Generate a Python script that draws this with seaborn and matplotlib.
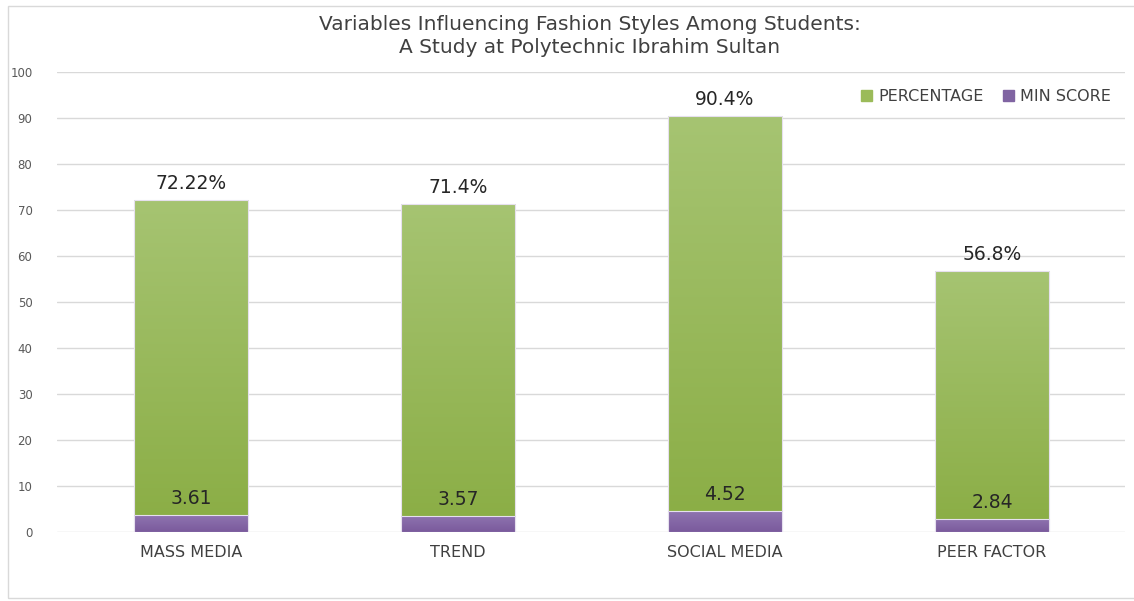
import numpy as np
import pandas as pd
import matplotlib
matplotlib.use("Agg")
import matplotlib.pyplot as plt
import seaborn as sns
from matplotlib.colors import LinearSegmentedColormap
from matplotlib.patches import Rectangle, Patch

# chart data
categories = ["MASS MEDIA", "TREND", "SOCIAL MEDIA", "PEER FACTOR"]
percentage = [72.22, 71.4, 90.4, 56.8]
min_score = [3.61, 3.57, 4.52, 2.84]
pct_labels = ["72.22%", "71.4%", "90.4%", "56.8%"]

df = pd.DataFrame({"factor": categories, "percentage": percentage, "min_score": min_score})

sns.set_style("white")
plt.rcParams["font.family"] = ["DejaVu Sans"]

fig = plt.figure(figsize=(11.34, 6.01), dpi=100)
ax = fig.add_axes([0.0507, 0.1148, 0.9418, 0.7652])

green = "#9bbb59"
purple = "#8064a2"
sns.barplot(data=df, x="factor", y="percentage", color=green, width=0.43,
            saturation=1, ax=ax, label="PERCENTAGE", zorder=2)
sns.barplot(data=df, x="factor", y="min_score", color=purple, width=0.43,
            saturation=1, ax=ax, label="MIN SCORE", zorder=3)

# gradient fill like the Excel original
green_cmap = LinearSegmentedColormap.from_list("g", ["#8aad44", "#a6c472"])
purple_cmap = LinearSegmentedColormap.from_list("p", ["#7a5a9c", "#8f74b0"])
grad = np.linspace(0, 1, 256).reshape(-1, 1)
n = len(categories)
for i, p in enumerate(ax.patches):
    cmap = green_cmap if i < n else purple_cmap
    x0, y0 = p.get_x(), p.get_y()
    w, h = p.get_width(), p.get_height()
    p.set_facecolor("none")
    p.set_edgecolor("#e6e0ee")
    p.set_linewidth(0.8)
    im = ax.imshow(grad, cmap=cmap, aspect="auto", origin="lower",
                   extent=[x0, x0 + w, y0, y0 + h], zorder=p.get_zorder() - 0.1)
    im.set_clip_path(p)

for i in range(n):
    ax.annotate(pct_labels[i], (i, percentage[i]), xytext=(0, 5), textcoords="offset points",
                ha="center", va="bottom", fontsize=13.5, color="#262626")
    ax.annotate(f"{min_score[i]:.2f}", (i, min_score[i]), xytext=(0, 5), textcoords="offset points",
                ha="center", va="bottom", fontsize=13.5, color="#262626")

ax.set_xlim(-0.5, n - 0.5)
ax.set_ylim(0, 100)
ax.set_yticks(range(0, 101, 10))
ax.yaxis.grid(True, color="#d9d9d9", linewidth=1)
ax.set_axisbelow(True)
for s in ax.spines.values():
    s.set_visible(False)
ax.tick_params(axis="y", labelsize=8.5, colors="#595959", length=0, pad=18)
ax.tick_params(axis="x", labelsize=11.5, colors="#404040", length=0, pad=9)
ax.set_xlabel("")
ax.set_ylabel("")

handles = [Patch(color=green, label="PERCENTAGE"), Patch(color=purple, label="MIN SCORE")]
ax.legend(handles=handles, loc="upper right", bbox_to_anchor=(1.0, 0.995), ncol=2, frameon=False,
          fontsize=11.5, handlelength=0.7, handleheight=0.7, handletextpad=0.4, columnspacing=1.2,
          labelcolor="#404040")

fig.text(0.52, 0.975, "Variables Influencing Fashion Styles Among Students:\nA Study at Polytechnic Ibrahim Sultan",
         ha="center", va="top", fontsize=14.5, color="#404040", family=["DejaVu Sans"],
         linespacing=1.25)

fig.patches.append(Rectangle((0.007, 0.005), 1.2, 0.985, transform=fig.transFigure,
                             fill=False, edgecolor="#d9d9d9", linewidth=1))

fig.savefig("out.png", dpi=100)
